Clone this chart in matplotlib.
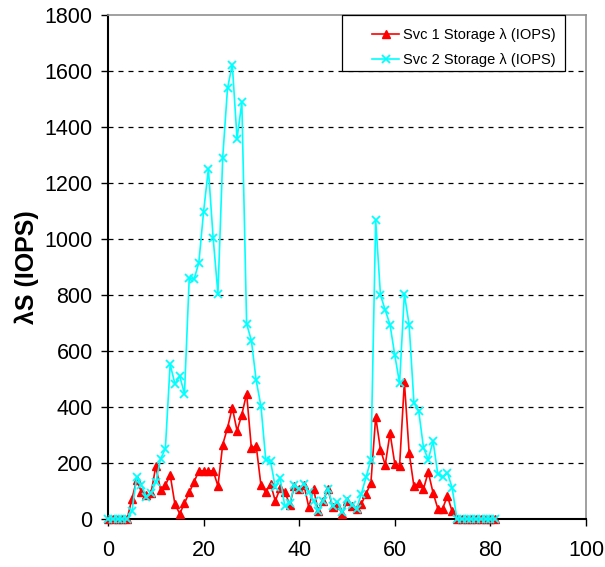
import numpy as np
import matplotlib
matplotlib.use('Agg')
import matplotlib.pyplot as plt
from matplotlib.patches import Rectangle

# Sample index 0..81
x_vals = list(range(82))

# Svc 1 storage arrival rate (IOPS)
svc1_iops = [0, 0, 0, 0, 0, 72, 139, 96, 84, 92,
             188, 104, 120, 158, 53, 19, 56, 95, 132, 172,
             172, 172, 172, 118, 266, 325, 398, 315, 373, 448,
             252, 262, 120, 96, 126, 64, 110, 98, 50, 118,
             107, 122, 42, 107, 28, 63, 107, 42, 51, 19,
             65, 48, 34, 54, 90, 129, 365, 248, 193, 307,
             197, 189, 490, 237, 117, 127, 107, 168, 94, 37,
             37, 82, 27, 0, 0, 0, 0, 0, 0, 0,
             0, 0]

# Svc 2 storage arrival rate (IOPS)
svc2_iops = [0, 0, 0, 0, 0, 28, 150, 120, 80, 92,
             132, 215, 251, 552, 483, 510, 448, 862, 856, 915,
             1098, 1250, 1003, 805, 1291, 1538, 1623, 1358, 1488, 697,
             637, 495, 403, 212, 207, 114, 146, 45, 56, 120,
             108, 126, 96, 66, 30, 66, 108, 48, 60, 24,
             72, 51, 36, 90, 150, 212, 1068, 800, 746, 694,
             585, 485, 804, 693, 416, 386, 255, 212, 279, 160,
             150, 166, 111, 0, 0, 0, 0, 0, 0, 0,
             0, 0]

series_labels = ['Svc 1 Storage \u03bb (IOPS)', 'Svc 2 Storage \u03bb (IOPS)']
y_label = '\u03bbS (IOPS)'
x_ticks = [0, 20, 40, 60, 80, 100]
y_ticks = [0, 200, 400, 600, 800, 1000, 1200, 1400, 1600, 1800]

plt.rcParams['font.family'] = ['Liberation Sans', 'DejaVu Sans']

fig = plt.figure(figsize=(6.05, 5.67), dpi=100)
ax = fig.add_axes([108 / 605, 1 - 519 / 567, 478 / 605, 504 / 567])

# Dashed horizontal gridlines (not at 0 or the top)
for yv in y_ticks[1:-1]:
    ax.axhline(yv, color='black', lw=0.9, ls=(0, (4, 4)), zorder=1)

ax.plot(x_vals, svc1_iops, color='#ff0000', lw=1.2, marker='^', ms=6,
        mec='#ff0000', mfc='#ff0000', label=series_labels[0], zorder=3,
        clip_on=False)
ax.plot(x_vals, svc2_iops, color='#00ffff', lw=1.2, marker='x', ms=6,
        mew=1.3, label=series_labels[1], zorder=4, clip_on=False)

ax.set_xlim(0, 100)
ax.set_ylim(0, 1800)
ax.set_xticks(x_ticks)
ax.set_yticks(y_ticks)
ax.tick_params(axis='both', direction='out', length=5, width=1, labelsize=15.5)
ax.tick_params(axis='x', pad=10)
ax.tick_params(axis='y', pad=6)

ax.set_ylabel(y_label, fontsize=18, fontweight='bold', labelpad=4)

for side in ['left', 'bottom']:
    ax.spines[side].set_linewidth(1.5)
    ax.spines[side].set_color('black')
for side in ['top', 'right']:
    ax.spines[side].set_linewidth(1.2)
    ax.spines[side].set_color('#909090')

# Legend box drawn by hand so the padding matches
leg_left = (342 - 108) / 478
leg_right = (565 - 108) / 478
leg_bottom = (519 - 71) / 504
ax.add_patch(Rectangle((leg_left, leg_bottom), leg_right - leg_left, 1 - leg_bottom,
                       transform=ax.transAxes, fill=True, facecolor='white',
                       edgecolor='black', lw=0.9, zorder=5, clip_on=False))
ax.legend(loc='upper left', bbox_to_anchor=((357 - 108) / 478, 1.005), frameon=False,
          fontsize=10.5, handlelength=1.85, handletextpad=0.25, labelspacing=0.75,
          borderpad=0.55).set_zorder(6)

fig.savefig('out.png', dpi=100)
